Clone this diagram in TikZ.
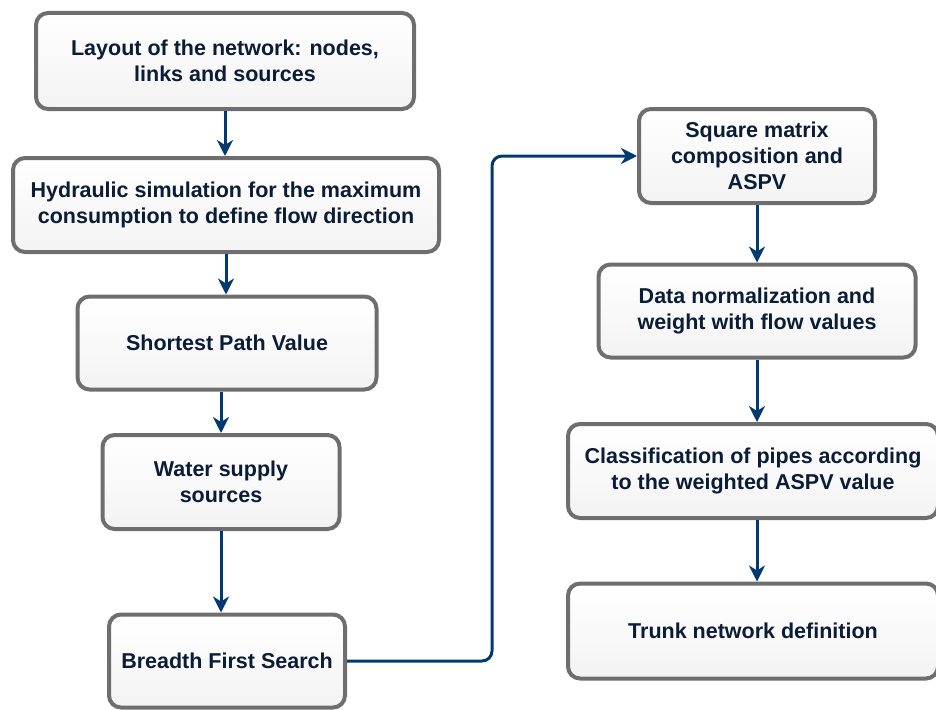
\documentclass[tikz,border=0pt]{standalone}
\usepackage{fontspec}
\setmainfont{Liberation Sans}
\usetikzlibrary{arrows.meta}
\definecolor{boxline}{HTML}{6E6E6E}
\definecolor{boxfill}{HTML}{F3F3F3}
\definecolor{arrowblue}{HTML}{003A70}
\definecolor{textnavy}{HTML}{0B1C36}
\begin{document}
\begin{tikzpicture}[x=1pt,y=-1pt,
  stepbox/.style={draw=boxline,line width=4pt,rounded corners=12pt,top color=white,bottom color=boxfill,
    text=textnavy,font=\fontsize{21.5}{26}\selectfont\bfseries,align=center,inner sep=0pt},
  flowarrow/.style={draw=arrowblue,line width=3pt,-{Stealth[length=16pt,width=16pt,inset=5pt]}}]
\useasboundingbox (0,0) rectangle (936,709);
% left column
\node[stepbox,minimum width=378pt,minimum height=96pt] (layout) at (225,61) {Layout of the network: nodes,\\links and sources};
\node[stepbox,minimum width=426pt,minimum height=94pt] (hydraulic) at (226,205) {Hydraulic simulation for the maximum\\consumption to define flow direction};
\node[stepbox,minimum width=299pt,minimum height=93pt] (shortest) at (227,343) {Shortest Path Value};
\node[stepbox,minimum width=237pt,minimum height=94pt] (water) at (221,482) {Water supply\\sources};
\node[stepbox,minimum width=236pt,minimum height=93pt] (bfs) at (227,661) {Breadth First Search};
% right column
\node[stepbox,minimum width=236pt,minimum height=94pt] (square) at (757,156) {Square matrix\\composition and\\ASPV};
\node[stepbox,minimum width=317pt,minimum height=93pt] (datanorm) at (757,311) {Data normalization and\\weight with flow values};
\node[stepbox,minimum width=370pt,minimum height=94pt] (classif) at (753,471) {Classification of pipes according\\to the weighted ASPV value};
\node[stepbox,minimum width=370pt,minimum height=95pt] (trunk) at (753,631) {Trunk network definition};
\coordinate (bend) at (492,0);
% arrows
\draw[flowarrow] (layout.south) -- (layout.south |- hydraulic.north);
\draw[flowarrow] (hydraulic.south) -- (hydraulic.south |- shortest.north);
\draw[flowarrow] (water.north |- shortest.south) -- (water.north);
\draw[flowarrow] (water.south) -- (water.south |- bfs.north);
\draw[flowarrow,rounded corners=10pt] (bfs.east) -- (bfs.east -| bend) -- (bend |- square.west) -- (square.west);
\draw[flowarrow] (square.south) -- (square.south |- datanorm.north);
\draw[flowarrow] (datanorm.south) -- (datanorm.south |- classif.north);
\draw[flowarrow] (datanorm.south |- classif.south) -- (datanorm.south |- trunk.north);
\end{tikzpicture}
\end{document}
